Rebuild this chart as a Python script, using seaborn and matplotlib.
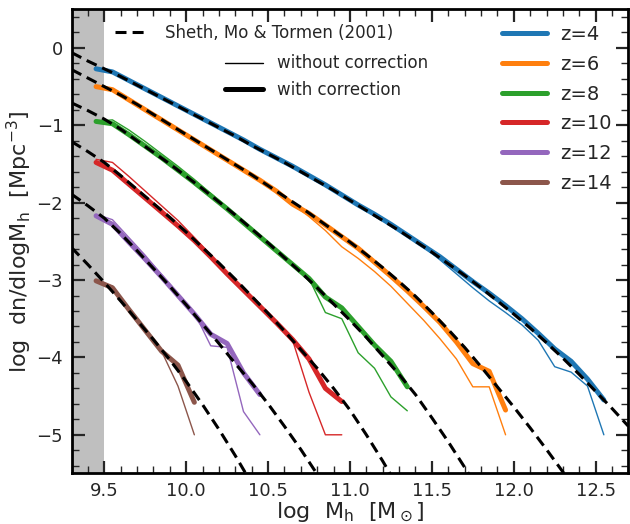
import numpy as np
import pandas as pd
import seaborn as sns
import matplotlib
matplotlib.use("Agg")
import matplotlib.pyplot as plt
from matplotlib.lines import Line2D
from matplotlib.ticker import MultipleLocator, FormatStrFormatter

# ---------------- data ----------------
redshifts = ["z=4", "z=6", "z=8", "z=10", "z=12", "z=14"]
colors = ["#1f77b4", "#ff7f0e", "#2ca02c", "#d62728", "#9467bd", "#8c564b"]

# mass bin centres for each redshift
m_z4 = [9.45, 9.55, 9.65, 9.75, 9.85, 9.95, 10.05, 10.15, 10.25, 10.35, 10.45,
        10.55, 10.65, 10.75, 10.85, 10.95, 11.05, 11.15, 11.25, 11.35, 11.45,
        11.55, 11.65, 11.75, 11.85, 11.95, 12.05, 12.15, 12.25, 12.35, 12.45, 12.55]
m_z6 = m_z4[:26]
m_z8 = m_z4[:20]
m_z10 = m_z4[:16]
m_z12 = m_z4[:11]
m_z14 = m_z4[:7]

# with correction (thick)
corr_z4 = [-0.27, -0.31, -0.42, -0.53, -0.64, -0.75, -0.86, -0.97, -1.08, -1.19, -1.31,
           -1.42, -1.53, -1.65, -1.77, -1.90, -2.03, -2.15, -2.28, -2.42, -2.56,
           -2.70, -2.86, -3.02, -3.17, -3.33, -3.50, -3.69, -3.89, -4.05, -4.28, -4.55]
corr_z6 = [-0.50, -0.54, -0.67, -0.80, -0.93, -1.06, -1.19, -1.32, -1.45, -1.58, -1.71,
           -1.85, -2.02, -2.14, -2.29, -2.44, -2.59, -2.77, -2.95, -3.14, -3.34,
           -3.55, -3.80, -4.08, -4.18, -4.68]
corr_z8 = [-0.95, -0.98, -1.12, -1.27, -1.42, -1.58, -1.74, -1.91, -2.08, -2.26, -2.44,
           -2.62, -2.80, -2.98, -3.22, -3.36, -3.60, -3.84, -4.05, -4.38]
corr_z10 = [-1.48, -1.58, -1.76, -1.94, -2.12, -2.30, -2.49, -2.70, -2.92, -3.13, -3.34,
            -3.55, -3.77, -4.02, -4.40, -4.57]
corr_z12 = [-2.17, -2.28, -2.51, -2.73, -2.96, -3.20, -3.44, -3.70, -3.82, -4.20, -4.48]
corr_z14 = [-3.01, -3.10, -3.38, -3.65, -3.92, -4.10, -4.58]

# without correction (thin)
raw_z4 = [-0.27, -0.31, -0.42, -0.53, -0.64, -0.75, -0.86, -0.97, -1.08, -1.19, -1.31,
          -1.42, -1.53, -1.65, -1.77, -1.90, -2.03, -2.15, -2.28, -2.42, -2.57,
          -2.74, -2.92, -3.10, -3.27, -3.42, -3.58, -3.78, -4.12, -4.19, -4.37, -5.00]
raw_z6 = [-0.50, -0.54, -0.67, -0.80, -0.93, -1.06, -1.19, -1.32, -1.45, -1.58, -1.71,
          -1.85, -2.02, -2.18, -2.36, -2.57, -2.72, -2.89, -3.08, -3.30, -3.52,
          -3.76, -4.02, -4.38, -4.38, -5.00]
raw_z8 = [-0.95, -0.93, -1.06, -1.21, -1.37, -1.53, -1.70, -1.88, -2.06, -2.25, -2.44,
          -2.62, -2.80, -2.98, -3.42, -3.50, -3.94, -4.14, -4.51, -4.69]
raw_z10 = [-1.44, -1.48, -1.66, -1.85, -2.04, -2.23, -2.45, -2.68, -2.92, -3.13, -3.34,
           -3.55, -3.78, -4.45, -5.00, -5.00]
raw_z12 = [-2.15, -2.22, -2.45, -2.68, -2.93, -3.18, -3.42, -3.85, -3.87, -4.70, -5.00]
raw_z14 = [-3.01, -3.08, -3.38, -3.65, -3.92, -4.37, -5.00]

# Sheth, Mo & Tormen (2001) curves
smt_m = [9.3, 9.4, 9.5, 9.6, 9.7, 9.8, 9.9, 10.0, 10.1, 10.2, 10.3, 10.4, 10.5, 10.6,
         10.7, 10.8, 10.9, 11.0, 11.1, 11.2, 11.3, 11.4, 11.5, 11.6, 11.7, 11.8, 11.9,
         12.0, 12.1, 12.2, 12.3, 12.4, 12.5, 12.6, 12.7]
smt_z4 = [-0.06, -0.17, -0.27, -0.37, -0.48, -0.59, -0.70, -0.81, -0.92, -1.03, -1.14,
          -1.26, -1.37, -1.48, -1.60, -1.72, -1.84, -1.97, -2.10, -2.23, -2.36, -2.50,
          -2.64, -2.79, -2.94, -3.10, -3.27, -3.44, -3.62, -3.81, -4.01, -4.22, -4.44,
          -4.66, -4.89]
smt_z6 = [-0.28, -0.39, -0.50, -0.61, -0.73, -0.86, -0.99, -1.12, -1.25, -1.38, -1.51,
          -1.64, -1.78, -1.92, -2.06, -2.21, -2.36, -2.51, -2.67, -2.84, -3.02, -3.21,
          -3.42, -3.64, -3.87, -4.12, -4.38, -4.64, -4.91, -5.19, -5.48, -5.78]
smt_z8 = [-0.71, -0.81, -0.92, -1.05, -1.20, -1.35, -1.50, -1.66, -1.82, -1.99, -2.16,
          -2.34, -2.52, -2.71, -2.90, -3.10, -3.31, -3.52, -3.74, -3.98, -4.22, -4.48,
          -4.78, -5.09, -5.42, -5.76]
smt_z10 = [-1.21, -1.34, -1.48, -1.65, -1.83, -2.01, -2.19, -2.38, -2.58, -2.78, -2.99,
           -3.21, -3.43, -3.66, -3.90, -4.14, -4.40, -4.68, -5.00, -5.34, -5.70]
smt_z12 = [-1.89, -2.04, -2.20, -2.40, -2.62, -2.85, -3.08, -3.32, -3.57, -3.82, -4.08,
           -4.33, -4.60, -4.89, -5.19, -5.51, -5.84]
smt_z14 = [-2.58, -2.80, -3.03, -3.27, -3.52, -3.77, -4.03, -4.31, -4.61, -4.93, -5.27,
           -5.63]

xticks = [9.5, 10.0, 10.5, 11.0, 11.5, 12.0, 12.5]
yticks = [-5, -4, -3, -2, -1, 0]

masses = [m_z4, m_z6, m_z8, m_z10, m_z12, m_z14]
corr = [corr_z4, corr_z6, corr_z8, corr_z10, corr_z12, corr_z14]
raw = [raw_z4, raw_z6, raw_z8, raw_z10, raw_z12, raw_z14]
smt = [smt_z4, smt_z6, smt_z8, smt_z10, smt_z12, smt_z14]

THICK = 3.6
THIN = 1.0
DASH = (0, (3.6, 2.0))

# ---------------- style ----------------
sns.set_style("ticks")
plt.rcParams.update({
    "font.family": ["DejaVu Sans"],
    "mathtext.default": "regular",
    "xtick.direction": "in",
    "ytick.direction": "in",
    "xtick.top": True,
    "ytick.right": True,
    "axes.linewidth": 2.0,
    "axes.edgecolor": "black",
})

fig = plt.figure(figsize=(6.3, 5.24), dpi=100)
ax = fig.add_axes([0.1135, 0.0964, 0.884, 0.886])

ax.axvspan(9.3, 9.5, color="#bfbfbf", lw=0, zorder=0)

for lab, c, m, yc, yr, ys in zip(redshifts, colors, masses, corr, raw, smt):
    sns.lineplot(x=m, y=yc, ax=ax, color=c, lw=THICK, sort=False, estimator=None,
                 legend=False, zorder=2)
    sns.lineplot(x=m, y=yr, ax=ax, color=c, lw=THIN, sort=False, estimator=None,
                 legend=False, zorder=3)
    sns.lineplot(x=smt_m[:len(ys)], y=ys, ax=ax, color="black", lw=2.2,
                 linestyle=DASH, sort=False, estimator=None,
                 legend=False, zorder=4)

ax.set_xlim(9.3, 12.7)
ax.set_ylim(-5.5, 0.5)
ax.set_xticks(xticks)
ax.set_yticks(yticks)
ax.xaxis.set_major_formatter(FormatStrFormatter("%.1f"))
ax.xaxis.set_minor_locator(MultipleLocator(0.1))
ax.yaxis.set_minor_locator(MultipleLocator(0.2))
ax.tick_params(which="major", length=9, width=1.6, labelsize=13, pad=6,
               direction="in", top=True, right=True)
ax.tick_params(which="minor", length=5, width=1.0, direction="in", top=True, right=True)
for s in ax.spines.values():
    s.set_linewidth(2.0)

ax.set_xlabel(r"log  M$_h$  [M$_\odot$]", fontsize=16, labelpad=0)
ax.set_ylabel(r"log  dn/dlogM$_h$  [Mpc$^{-3}$]", fontsize=16, labelpad=2)

# legends
h_smt = [Line2D([], [], color="black", lw=2.2, linestyle=DASH)]
leg1 = ax.legend(h_smt, ["Sheth, Mo & Tormen (2001)"], loc="upper left",
                 bbox_to_anchor=(0.1825, 0.955), bbox_transform=fig.transFigure,
                 frameon=False, fontsize=12, handlelength=2.0, handletextpad=1.0,
                 borderpad=0, borderaxespad=0)
ax.add_artist(leg1)

h_corr = [Line2D([], [], color="black", lw=THIN), Line2D([], [], color="black", lw=THICK)]
leg2 = ax.legend(h_corr, ["without correction", "with correction"], loc="upper left",
                 bbox_to_anchor=(0.357, 0.896), bbox_transform=fig.transFigure,
                 frameon=False, fontsize=12, handlelength=2.3, handletextpad=0.8,
                 labelspacing=0.5, borderpad=0, borderaxespad=0)
ax.add_artist(leg2)

h_z = [Line2D([], [], color=c, lw=THICK) for c in colors]
leg3 = ax.legend(h_z, redshifts, loc="upper left",
                 bbox_to_anchor=(0.797, 0.952), bbox_transform=fig.transFigure,
                 frameon=False, fontsize=14, handlelength=2.3, handletextpad=0.7,
                 labelspacing=0.55, borderpad=0, borderaxespad=0)

fig.savefig("out.png", dpi=100)
